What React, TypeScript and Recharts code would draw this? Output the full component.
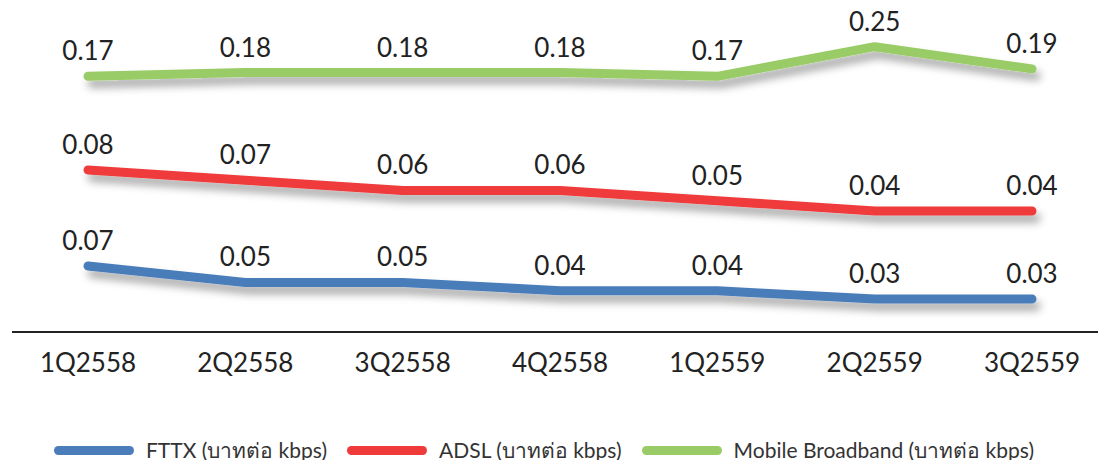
import React from 'react';
import { LineChart, Line, XAxis, YAxis, LabelList, Legend } from 'recharts';

const quarters = ['1Q2558', '2Q2558', '3Q2558', '4Q2558', '1Q2559', '2Q2559', '3Q2559'];
const fttx = [0.07, 0.05, 0.05, 0.04, 0.04, 0.03, 0.03];
const adsl = [0.08, 0.07, 0.06, 0.06, 0.05, 0.04, 0.04];
const mobile = [0.17, 0.18, 0.18, 0.18, 0.17, 0.25, 0.19];

const seriesNames = {
  fttx: 'FTTX (บาทต่อ kbps)',
  adsl: 'ADSL (บาทต่อ kbps)',
  mobile: 'Mobile Broadband (บาทต่อ kbps)',
};

const colors = { fttx: '#4a7dba', adsl: '#ef3a3a', mobile: '#99cc66' };

const data = quarters.map((q, i) => ({
  quarter: q,
  fttx: fttx[i],
  adsl: adsl[i],
  mobile: mobile[i],
}));

const FONT = 'Lato, "Noto Sans", sans-serif';

const legendItems = [
  { key: 'fttx', label: seriesNames.fttx, color: colors.fttx },
  { key: 'adsl', label: seriesNames.adsl, color: colors.adsl },
  { key: 'mobile', label: seriesNames.mobile, color: colors.mobile },
];

const LegendBox = () => (
  <div
    style={{
      height: 36,
      paddingRight: 30,
      boxSizing: 'border-box',
      display: 'flex',
      justifyContent: 'center',
      alignItems: 'center',
      gap: 20,
      fontFamily: FONT,
      fontSize: 21,
      color: '#333',
    }}
  >
    {legendItems.map((it) => (
      <div key={it.key} style={{ display: 'flex', alignItems: 'center' }}>
        <span
          style={{
            display: 'inline-block',
            width: 80,
            height: 9,
            borderRadius: 5,
            background: it.color,
            marginRight: 12,
          }}
        />
        <span style={{ whiteSpace: 'nowrap' }}>{it.label}</span>
      </div>
    ))}
  </div>
);

const fmt = (v: number) => v.toFixed(2);

const labelProps = { fill: '#222', fontSize: 26, fontFamily: FONT };

export default function App() {
  return (
    <div style={{ margin: -8, width: 1106, height: 468, background: '#fff' }}>
      <LineChart width={1106} height={468} data={data} margin={{ top: 0, right: 0, bottom: 0, left: 12 }}>
        <defs>
          <filter id="shadow" x="-10%" y="-50%" width="120%" height="300%">
            <feDropShadow dx="4" dy="7" stdDeviation="4" floodColor="#000" floodOpacity="0.35" />
          </filter>
        </defs>
        <XAxis
          dataKey="quarter"
          height={100}
          padding={{ left: 76, right: 74 }}
          tickLine={false}
          axisLine={{ stroke: '#222', strokeWidth: 2 }}
          tick={{ fill: '#222', fontSize: 26, fontFamily: FONT }}
          tickMargin={16}
          interval={0}
        />
        <YAxis yAxisId="f" hide type="number" domain={[-0.01, 0.3924]} allowDataOverflow />
        <YAxis yAxisId="a" hide type="number" domain={[-0.07805, 0.24585]} allowDataOverflow />
        <YAxis yAxisId="m" hide type="number" domain={[-0.5201, 0.376]} allowDataOverflow />
        <Legend verticalAlign="bottom" content={<LegendBox />} />
        <Line
          yAxisId="f"
          dataKey="fttx"
          name={seriesNames.fttx}
          stroke={colors.fttx}
          strokeWidth={9}
          strokeLinecap="round"
          strokeLinejoin="round"
          dot={false}
          filter="url(#shadow)"
          isAnimationActive={false}
        >
          <LabelList dataKey="fttx" position="top" offset={16} formatter={fmt} {...labelProps} />
        </Line>
        <Line
          yAxisId="a"
          dataKey="adsl"
          name={seriesNames.adsl}
          stroke={colors.adsl}
          strokeWidth={9}
          strokeLinecap="round"
          strokeLinejoin="round"
          dot={false}
          filter="url(#shadow)"
          isAnimationActive={false}
        >
          <LabelList dataKey="adsl" position="top" offset={16} formatter={fmt} {...labelProps} />
        </Line>
        <Line
          yAxisId="m"
          dataKey="mobile"
          name={seriesNames.mobile}
          stroke={colors.mobile}
          strokeWidth={9}
          strokeLinecap="round"
          strokeLinejoin="round"
          dot={false}
          filter="url(#shadow)"
          isAnimationActive={false}
        >
          <LabelList dataKey="mobile" position="top" offset={16} formatter={fmt} {...labelProps} />
        </Line>
      </LineChart>
    </div>
  );
}
